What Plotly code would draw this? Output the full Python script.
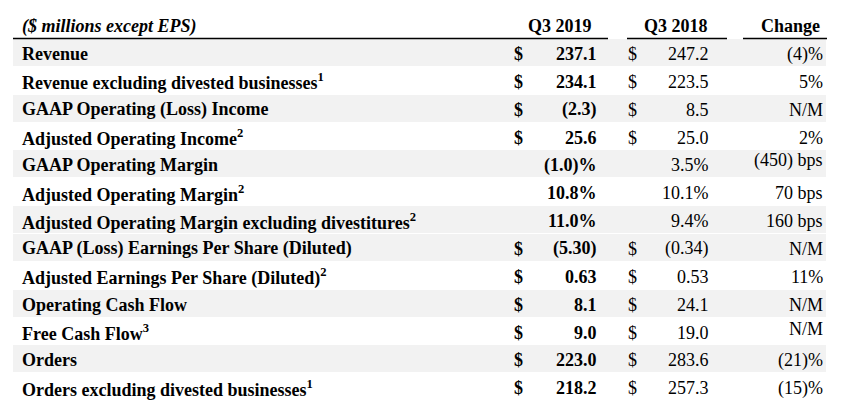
import plotly.graph_objects as go

# ---------------- data ----------------
title_text = "($ millions except EPS)"
headers = ["Q3 2019", "Q3 2018", "Change"]
labels = [
    "Revenue",
    "Revenue excluding divested businesses<sup>1</sup>",
    "GAAP Operating (Loss) Income",
    "Adjusted Operating Income<sup>2</sup>",
    "GAAP Operating Margin",
    "Adjusted Operating Margin<sup>2</sup>",
    "Adjusted Operating Margin excluding divestitures<sup>2</sup>",
    "GAAP (Loss) Earnings Per Share (Diluted)",
    "Adjusted Earnings Per Share (Diluted)<sup>2</sup>",
    "Operating Cash Flow",
    "Free Cash Flow<sup>3</sup>",
    "Orders",
    "Orders excluding divested businesses<sup>1</sup>",
]
q3_2019 = ["237.1", "234.1", "(2.3)", "25.6", "(1.0)%", "10.8%", "11.0%",
           "(5.30)", "0.63", "8.1", "9.0", "223.0", "218.2"]
q3_2018 = ["247.2", "223.5", "8.5", "25.0", "3.5%", "10.1%", "9.4%",
           "(0.34)", "0.53", "24.1", "19.0", "283.6", "257.3"]
change = ["(4)%", "5%", "N/M", "2%", "(450) bps", "70 bps", "160 bps",
          "N/M", "11%", "N/M", "N/M", "(21)%", "(15)%"]
has_dollar = [True, True, True, True, False, False, False,
              True, True, True, True, True, True]
shaded = [True, False, True, False, True, False, True,
          True, False, True, False, True, False]

# ---------------- layout / style ----------------
W, H = 851, 420
PITCH = 27.85          # px per row
Y0 = 52.5              # px centre of first row
FONT = "Liberation Serif, Times New Roman, serif"
FS = 18
GRAY = "#f2f2f2"
TEXT_SHIFT = -1.5

X_LABEL = 20
X_D1 = 518      # centre of bold $
X_V1 = 599      # right edge Q3 2019
X_D2 = 632      # centre of regular $
X_V2 = 711      # right edge Q3 2018
X_CH = 825      # right edge change
X_H = [560, 676, 790]
BAND_X = (13, 826)
LINE_SPANS = [(13, 608), (627, 727), (743, 827)]
change_shift = {4: 5, 10: 4}

n = len(labels)
fig = go.Figure()

# shaded row bands
band_rows = [i for i in range(n) if shaded[i]]
fig.add_trace(go.Bar(
    orientation="h",
    y=band_rows,
    x=[BAND_X[1] - BAND_X[0]] * len(band_rows),
    base=BAND_X[0],
    width=0.97,
    marker=dict(color=GRAY, line=dict(width=0)),
    hoverinfo="skip",
    showlegend=False,
))

# header lines
for x0, x1 in LINE_SPANS:
    fig.add_shape(type="line", xref="x", yref="y", x0=x0, x1=x1, y0=-0.5, y1=-0.5,
                  line=dict(color="black", width=1.5))

def ann(x, y, text, anchor, bold=False, italic=False, yshift=TEXT_SHIFT):
    t = text
    if italic:
        t = f"<i>{t}</i>"
    if bold:
        t = f"<b>{t}</b>"
    fig.add_annotation(x=x, y=y, xref="x", yref="y", text=t, showarrow=False,
                       xanchor=anchor, yanchor="middle", yshift=yshift,
                       font=dict(family=FONT, size=FS, color="black"))

# title and headers
ann(X_LABEL, -1, title_text, "left", bold=True, italic=True)
for xh, h in zip(X_H, headers):
    ann(xh, -1, h, "center", bold=True)

# rows
for i in range(n):
    ann(X_LABEL, i, labels[i], "left", bold=True)
    if has_dollar[i]:
        ann(X_D1, i, "$", "center", bold=True)
        ann(X_D2, i, "$", "center")
    ann(X_V1, i, q3_2019[i], "right", bold=True)
    ann(X_V2, i, q3_2018[i], "right")
    ann(X_CH, i, change[i], "right", yshift=TEXT_SHIFT + change_shift.get(i, 0))

top = -Y0 / PITCH
bottom = top + H / PITCH
fig.update_layout(
    width=W, height=H,
    margin=dict(l=0, r=0, t=0, b=0),
    paper_bgcolor="white", plot_bgcolor="white",
    xaxis=dict(range=[0, W], visible=False, fixedrange=True),
    yaxis=dict(range=[bottom, top], visible=False, fixedrange=True),
    bargap=0,
    showlegend=False,
)
fig.write_html(
    "out.html",
    config={"displayModeBar": False, "staticPlot": True},
    post_script="document.body.style.margin='0';document.body.style.overflow='hidden';",
)
